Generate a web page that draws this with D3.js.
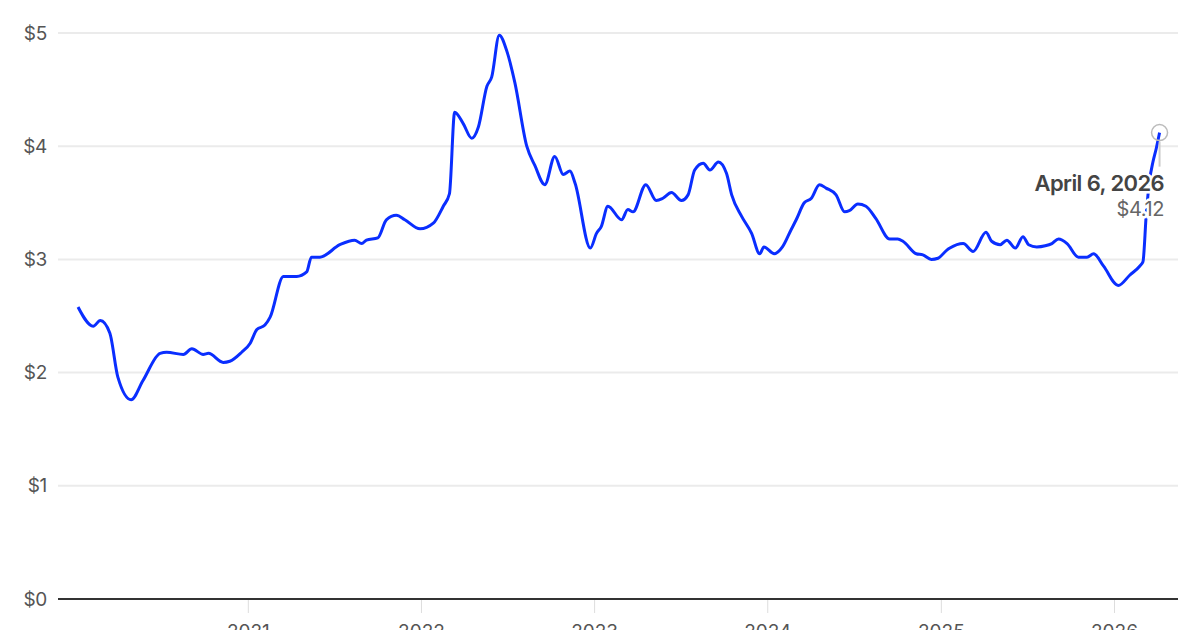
<!DOCTYPE html>
<html>
<head>
<meta charset="utf-8">
<script src="https://cdn.jsdelivr.net/npm/d3@7"></script>
<style>
  html, body { margin: 0; padding: 0; background: #fff; }
  svg { display: block; font-family: Inter, "Liberation Sans", sans-serif; }
  .grid line { stroke: #ebebeb; stroke-width: 2; }
  .ylab { fill: #555; font-size: 19px; }
  .xlab { fill: #555; font-size: 19px; }
</style>
</head>
<body>
<div class="chart"></div>
<script>
// weekly-ish readings of the line, dollars per gallon
var dates = [
  "2020-01-08","2020-02-09","2020-02-24","2020-03-15","2020-04-01","2020-04-29","2020-05-24","2020-06-29",
  "2020-07-13","2020-08-17","2020-09-04","2020-09-28","2020-10-09","2020-11-09","2020-11-23","2020-12-18",
  "2021-01-05","2021-01-19","2021-02-05","2021-02-16","2021-03-16","2021-04-13","2021-05-04","2021-05-14",
  "2021-06-01","2021-07-13","2021-08-13","2021-08-28","2021-09-07","2021-10-01","2021-10-19","2021-11-09",
  "2021-11-27","2021-12-29","2022-01-26","2022-02-16","2022-03-01","2022-03-12","2022-03-30","2022-04-17",
  "2022-05-01","2022-05-19","2022-05-29","2022-06-14","2022-06-30","2022-07-17","2022-08-11","2022-08-28",
  "2022-09-18","2022-10-09","2022-10-27","2022-11-10","2022-11-21","2022-12-23","2023-01-05","2023-01-15",
  "2023-01-29","2023-02-27","2023-03-12","2023-03-23","2023-04-19","2023-05-11","2023-05-25","2023-06-12",
  "2023-07-03","2023-07-17","2023-07-31","2023-08-18","2023-09-01","2023-09-19","2023-10-06","2023-10-17",
  "2023-11-07","2023-11-28","2023-12-15","2023-12-24","2024-01-15","2024-02-01","2024-02-19","2024-03-01",
  "2024-03-18","2024-04-02","2024-04-19","2024-05-03","2024-05-24","2024-06-11","2024-06-21","2024-07-09",
  "2024-07-26","2024-08-16","2024-09-14","2024-10-01","2024-10-12","2024-11-09","2024-11-23","2024-12-11",
  "2024-12-25","2025-01-12","2025-01-19","2025-02-16","2025-03-09","2025-04-05","2025-04-17","2025-05-05",
  "2025-05-19","2025-06-06","2025-06-22","2025-07-04","2025-07-21","2025-08-08","2025-08-22","2025-09-05",
  "2025-09-23","2025-10-17","2025-11-04","2025-11-18","2025-12-09","2026-01-09","2026-02-02","2026-02-23",
  "2026-03-02","2026-03-09","2026-03-16","2026-03-23","2026-03-30","2026-04-06"
];
var prices = [
  2.58,2.41,2.46,2.35,1.96,1.76,1.93,2.17,
  2.18,2.16,2.21,2.16,2.17,2.09,2.10,2.18,
  2.26,2.38,2.42,2.49,2.85,2.85,2.89,3.02,
  3.02,3.13,3.17,3.14,3.17,3.19,3.35,3.39,
  3.35,3.27,3.32,3.47,3.58,4.30,4.20,4.07,
  4.17,4.53,4.61,4.98,4.84,4.56,4.00,3.83,
  3.66,3.91,3.75,3.78,3.67,3.10,3.23,3.29,
  3.47,3.35,3.44,3.42,3.66,3.52,3.54,3.59,
  3.52,3.57,3.79,3.85,3.79,3.86,3.76,3.57,
  3.38,3.23,3.05,3.11,3.05,3.11,3.26,3.35,
  3.50,3.54,3.66,3.63,3.57,3.42,3.43,3.49,
  3.47,3.36,3.18,3.18,3.16,3.05,3.04,3.00,
  3.01,3.08,3.10,3.14,3.07,3.24,3.16,3.13,
  3.17,3.10,3.20,3.13,3.11,3.12,3.14,3.18,
  3.14,3.02,3.02,3.05,2.94,2.77,2.86,2.94,
  2.98,3.40,3.70,3.86,3.98,4.12
];
var yTicks = [0, 1, 2, 3, 4, 5];
var xTickYears = [2021, 2022, 2023, 2024, 2025, 2026];
var lastLabel = "April 6, 2026";

var width = 1200, height = 630;
var parse = d3.utcParse("%Y-%m-%d");
var data = dates.map(function(d, i){ return {date: parse(d), value: prices[i]}; });

var svg = d3.select(".chart").append("svg")
    .attr("width", width)
    .attr("height", height);

var x = d3.scaleUtc()
    .domain([Date.UTC(2020, 0, 1), Date.UTC(2026, 0, 1)])
    .range([74.7, 1114.5]);
var y = d3.scaleLinear()
    .domain([0, 5])
    .range([599, 33]);

// gridlines
svg.append("g").attr("class", "grid")
  .selectAll("line")
  .data(yTicks.filter(function(d){ return d > 0; }))
  .enter().append("line")
    .attr("x1", 58).attr("x2", 1178)
    .attr("y1", function(d){ return y(d); })
    .attr("y2", function(d){ return y(d); });

svg.append("g")
  .selectAll("text")
  .data(yTicks)
  .enter().append("text")
    .attr("class", "ylab")
    .attr("x", 47)
    .attr("y", function(d){ return y(d); })
    .attr("dy", "0.35em")
    .attr("text-anchor", "end")
    .attr("letter-spacing", "-0.3")
    .text(function(d){ return "$" + d; });

// x ticks + labels (cut by the bottom edge, as in the original)
var xt = svg.append("g")
  .selectAll("g")
  .data(xTickYears)
  .enter().append("g")
    .attr("transform", function(d){ return "translate(" + x(Date.UTC(d, 0, 1)) + ",0)"; });
xt.append("line")
    .attr("y1", 600).attr("y2", 613)
    .attr("stroke", "#ddd").attr("stroke-width", 1);
xt.append("text")
    .attr("class", "xlab")
    .attr("y", 638)
    .attr("text-anchor", "middle")
    .text(function(d){ return d; });

// baseline
svg.append("line")
    .attr("x1", 58).attr("x2", 1178)
    .attr("y1", y(0)).attr("y2", y(0))
    .attr("stroke", "#333").attr("stroke-width", 2);

var line = d3.line()
    .x(function(d){ return x(d.date); })
    .y(function(d){ return y(d.value); })
    .curve(d3.curveMonotoneX);

svg.append("path")
    .datum(data)
    .attr("fill", "none")
    .attr("stroke", "#0a2eff")
    .attr("stroke-width", 3)
    .attr("stroke-linejoin", "round")
    .attr("d", line);

// last point annotation
var last = data[data.length - 1];
var lx = x(last.date), ly = y(last.value);

svg.append("line")
    .attr("x1", lx).attr("x2", lx)
    .attr("y1", ly + 9).attr("y2", ly + 34)
    .attr("stroke", "#ccc").attr("stroke-width", 2);

svg.append("circle")
    .attr("cx", lx).attr("cy", ly)
    .attr("r", 8)
    .attr("fill", "none")
    .attr("stroke", "#bbb")
    .attr("stroke-width", 1.5);

var ann = svg.append("g").attr("text-anchor", "end");
ann.append("text")
    .attr("x", 1164).attr("y", 191)
    .attr("font-size", 22).attr("font-weight", 600)
    .attr("letter-spacing", "-0.6")
    .attr("fill", "#444")
    .attr("stroke", "#fff").attr("stroke-width", 5)
    .attr("paint-order", "stroke")
    .text(lastLabel);
ann.append("text")
    .attr("x", 1164).attr("y", 216)
    .attr("font-size", 20)
    .attr("letter-spacing", "-0.4")
    .attr("fill", "#666")
    .attr("stroke", "#fff").attr("stroke-width", 5)
    .attr("paint-order", "stroke")
    .text("$" + last.value.toFixed(2));
</script>
</body>
</html>
